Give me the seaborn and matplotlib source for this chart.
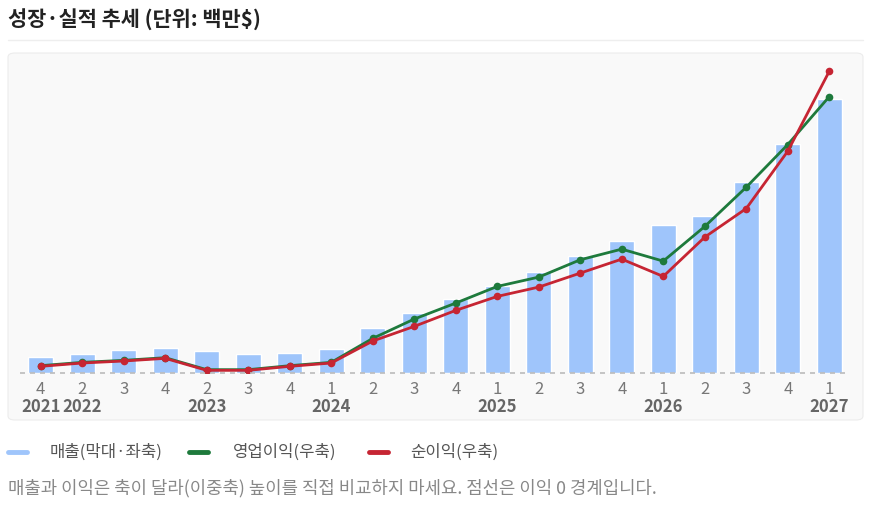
import matplotlib
matplotlib.use('Agg')
import matplotlib.pyplot as plt
import matplotlib.transforms as mtransforms
from matplotlib.patches import FancyBboxPatch
from matplotlib.lines import Line2D
import seaborn as sns
import pandas as pd

# --- data (백만$) ---
years = [2021, 2022, 2022, 2022, 2023, 2023, 2023, 2024, 2024, 2024,
         2024, 2025, 2025, 2025, 2025, 2026, 2026, 2026, 2026, 2027]
quarters = [4, 2, 3, 4, 2, 3, 4, 1, 2, 3, 4, 1, 2, 3, 4, 1, 2, 3, 4, 1]
revenue = [80, 95, 115, 125, 110, 95, 100, 120, 225, 300,
           370, 435, 505, 585, 660, 740, 785, 955, 1145, 1370]
op_income = [11, 16, 19, 23, 5, 5, 11, 16, 52, 81,
             105, 130, 144, 170, 186, 168, 220, 279, 343, 415]
net_income = [10, 15, 18, 22, 4, 4, 10, 15, 48, 70,
              94, 115, 129, 150, 171, 145, 204, 247, 333, 453]

title = '성장·실적 추세 (단위: 백만$)'
legend_labels = ['매출(막대·좌축)', '영업이익(우축)', '순이익(우축)']
note = '매출과 이익은 축이 달라(이중축) 높이를 직접 비교하지 마세요. 점선은 이익 0 경계입니다.'

bar_color = '#9fc5fb'
op_color = '#1e7a3c'
net_color = '#c62533'

df = pd.DataFrame({
    'period': [f'{y}Q{q}' for y, q in zip(years, quarters)],
    'idx': range(len(years)),
    'year': years,
    'quarter': quarters,
    'revenue': revenue,
    'op': op_income,
    'net': net_income,
})

sns.set_theme(style='white')
plt.rcParams['font.family'] = ['Noto Sans CJK KR', 'DejaVu Sans']

W, H = 875, 509
fig = plt.figure(figsize=(W / 100, H / 100), dpi=100)

# panel background
panel = FancyBboxPatch((8 / W, (H - 420) / H), 855 / W, 367 / H,
                       boxstyle='round,pad=0,rounding_size=0.008',
                       transform=fig.transFigure, facecolor='#f9f9f9',
                       edgecolor='#ececec', linewidth=0.8, zorder=-5)
fig.patches.append(panel)
fig.add_artist(Line2D([8 / W, 863 / W], [(H - 40) / H] * 2, color='#eeeeee',
                      linewidth=1, transform=fig.transFigure, zorder=-5))

fig.text(8 / W, (H - 20) / H, title, fontsize=15, fontweight='bold',
         color='#222222', va='center', ha='left')

ax = fig.add_axes([20 / W, (H - 373) / H, 830 / W, 313 / H])
ax.set_facecolor('none')
sns.barplot(data=df, x='period', y='revenue', color=bar_color, width=0.6,
            saturation=1, ax=ax, zorder=2)
ax.set_xlim(-0.5, len(df) - 0.5)
ax.set_ylim(0, 1565)

ax2 = ax.twinx()
ax2.set_ylim(0, 470)
sns.lineplot(data=df, x='idx', y='op', color=op_color, linewidth=2,
             marker='o', markersize=5.5, markeredgewidth=0, ax=ax2, zorder=3)
sns.lineplot(data=df, x='idx', y='net', color=net_color, linewidth=2,
             marker='o', markersize=5.5, markeredgewidth=0, ax=ax2, zorder=4)
ax2.axhline(0, color='#bbbbbb', linestyle=(0, (3, 3)), linewidth=1.2,
            clip_on=False, zorder=5)

for a in (ax, ax2):
    for s in a.spines.values():
        s.set_visible(False)
    a.set_yticks([])
    a.set_ylabel('')
    a.set_xlabel('')
ax2.set_xlim(-0.5, len(df) - 0.5)
ax2.tick_params(axis='x', bottom=False, labelbottom=False)

ax.set_xticks(range(len(df)))
ax.set_xticklabels([str(q) for q in quarters], fontsize=12, color='#777777')
ax.tick_params(axis='x', length=0, pad=6)

trans = mtransforms.blended_transform_factory(ax.transData, fig.transFigure)
seen = set()
for i, y in enumerate(years):
    if y not in seen:
        seen.add(y)
        ax.text(i, (H - 407) / H, str(y), transform=trans, ha='center',
                va='center', fontsize=12, fontweight='bold', color='#666666')

# legend
ly = (H - 452) / H
items = [(8, 50, bar_color, legend_labels[0]),
         (189, 233, op_color, legend_labels[1]),
         (369, 410, net_color, legend_labels[2])]
for x0, tx, c, lab in items:
    fig.add_artist(Line2D([x0 / W, (x0 + 19) / W], [ly, ly], color=c,
                          linewidth=3.5, solid_capstyle='round',
                          transform=fig.transFigure))
    fig.text(tx / W, ly, lab, fontsize=12, color='#555555', va='center',
             ha='left')

fig.text(8 / W, (H - 488) / H, note, fontsize=12.8, color='#888888',
         va='center', ha='left')

fig.savefig('out.png', dpi=100)
